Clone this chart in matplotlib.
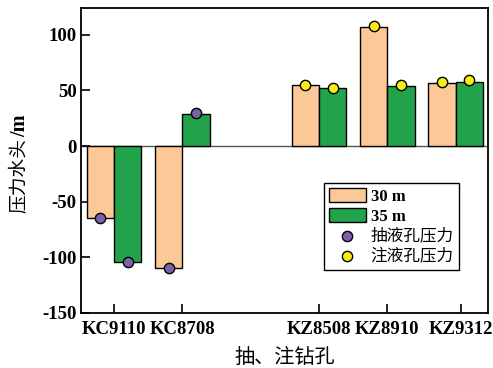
import numpy as np
import matplotlib.pyplot as plt

plt.rcParams['font.family'] = ['Liberation Serif', 'Noto Sans CJK SC']
plt.rcParams['axes.unicode_minus'] = False

holes = ['KC9110', 'KC8708', 'KZ8508', 'KZ8910', 'KZ9312']
xpos = np.array([0, 1, 3, 4, 5])
tick_pos = [0, 1, 3, 4, 5.08]

h30 = [-65, -110, 55, 107, 57]
h35 = [-104, 29, 52, 54, 58]

# measured pressure at each bar top: extraction holes / injection holes
pump = [-65, -104, -110, 30]
pump_x = [0 - 0.2, 0 + 0.2, 1 - 0.2, 1 + 0.2]
inject = [55, 52.5, 107.5, 55, 57.5, 59]
inject_x = [3 - 0.2, 3 + 0.2, 4 - 0.2, 4 + 0.2, 5 - 0.2, 5 + 0.2]

c30 = '#FDC897'
c35 = '#22A24B'
cpump = '#7B61A6'
cinj = '#F7EC13'
w = 0.4

fig = plt.figure(figsize=(4.93, 3.68), dpi=100)
ax = fig.add_axes([0.1643, 0.1495, 0.8256, 0.8285])

ax.axhline(0, color='#555555', lw=1.0, zorder=1)
b1 = ax.bar(xpos - w/2, h30, w, color=c30, edgecolor='black', lw=1.0, zorder=2)
b2 = ax.bar(xpos + w/2, h35, w, color=c35, edgecolor='black', lw=1.0, zorder=2)
s1 = ax.scatter(pump_x, pump, s=55, color=cpump, edgecolor='black', lw=1.0, zorder=3)
s2 = ax.scatter(inject_x, inject, s=55, color=cinj, edgecolor='black', lw=1.0, zorder=3)

ax.set_xlim(-0.483, 5.476)
ax.set_ylim(-150, 124)
ax.set_yticks([-150, -100, -50, 0, 50, 100])
ax.set_xticks(tick_pos)
ax.set_xticklabels(holes)
for lab in ax.get_xticklabels() + ax.get_yticklabels():
    lab.set_fontweight('bold')
    lab.set_fontsize(13.5)
ax.tick_params(axis='both', direction='in', length=6.5, width=1.2, pad=3)
ax.tick_params(axis='x', pad=6)

for sp in ax.spines.values():
    sp.set_linewidth(1.3)

ax.set_xlabel('抽、注钻孔', fontsize=14.5, labelpad=8)

# y label: Chinese part plain, unit in bold serif stacked above it
ylab = fig.text(20 / 493, 1 - 213 / 368, '压力水头', rotation=90, ha='center',
                va='bottom', fontsize=13.5)
fig.canvas.draw()
bb = ylab.get_window_extent().transformed(fig.transFigure.inverted())
fig.text(20 / 493, bb.y1 + 1 / 368, '/m', rotation=90, ha='center', va='bottom',
         fontsize=14.5, fontweight='bold')

leg = ax.legend([b1, b2, s1, s2], ['30 m', '35 m', '抽液孔压力', '注液孔压力'],
                loc='upper left', bbox_to_anchor=(0.597, 0.426), borderaxespad=0,
                fancybox=False, edgecolor='black', framealpha=1, fontsize=12,
                handlelength=2.2, handleheight=0.9, labelspacing=0.2,
                handletextpad=0.3, borderpad=0.3)
leg.get_frame().set_linewidth(1.0)
for t in leg.get_texts()[:2]:
    t.set_fontweight('bold')

fig.savefig('out.png', dpi=100)
